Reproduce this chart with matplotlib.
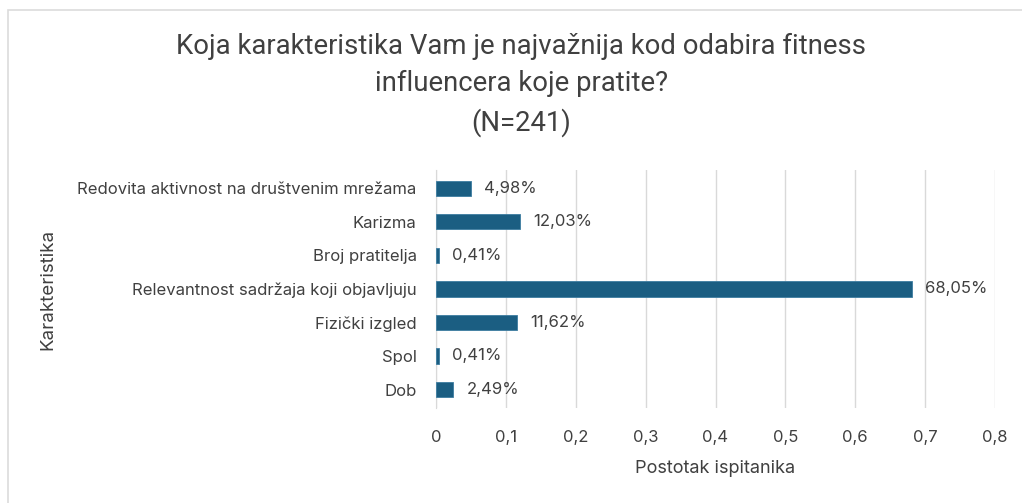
import matplotlib
matplotlib.use("Agg")
import matplotlib.pyplot as plt
from matplotlib.patches import Rectangle
from matplotlib.ticker import FixedLocator, FuncFormatter

categories = [
    "Redovita aktivnost na društvenim mrežama",
    "Karizma",
    "Broj pratitelja",
    "Relevantnost sadržaja koji objavljuju",
    "Fizički izgled",
    "Spol",
    "Dob",
]
values = [0.0498, 0.1203, 0.0041, 0.6805, 0.1162, 0.0041, 0.0249]
xticks = [0, 0.1, 0.2, 0.3, 0.4, 0.5, 0.6, 0.7, 0.8]

title = "Koja karakteristika Vam je najvažnija kod odabira fitness\ninfluencera koje pratite?\n(N=241)"
xlabel = "Postotak ispitanika"
ylabel = "Karakteristika"

plt.rcParams['font.family'] = ['Inter', 'DejaVu Sans']
TXT = '#404040'
BAR = '#1b5e82'

fig = plt.figure(figsize=(10.22, 5.03), dpi=100)
fig.patches.append(Rectangle((0.008, -0.05), 1.2, 1.03, transform=fig.transFigure,
                             fill=False, edgecolor='#dcdcdc', linewidth=1.2))

ax = fig.add_axes([0.4266, 0.189, 0.9736 - 0.4266, 0.662 - 0.189])
ypos = list(range(len(categories)))[::-1]
ax.barh(ypos, values, height=0.45, color=BAR, edgecolor='#3d7ca0', linewidth=0.6, zorder=3)
for y, v in zip(ypos, values):
    ax.text(v + 0.019, y, f"{v*100:.2f}%".replace('.', ','), va='center', ha='left',
            fontsize=12, color=TXT)

ax.set_xlim(0, 0.8)
ax.set_ylim(-0.55, len(categories) - 0.45)
ax.xaxis.set_major_locator(FixedLocator(xticks))
ax.xaxis.set_major_formatter(FuncFormatter(lambda x, p: ('0' if x == 0 else f"{x:.1f}".replace('.', ','))))
ax.set_yticks(ypos)
ax.set_yticklabels(categories)
ax.grid(axis='x', color='#d9d9d9', linewidth=1, zorder=0)
for s in ['top', 'right', 'bottom']:
    ax.spines[s].set_visible(False)
ax.spines['left'].set_color('#d9d9d9')
ax.tick_params(axis='both', length=0, colors=TXT, labelsize=12)
ax.tick_params(axis='y', pad=14)
ax.tick_params(axis='x', pad=16)

ax.set_xlabel(xlabel, fontsize=13, color=TXT, labelpad=11)
fig.text(0.047, 0.424, ylabel, rotation=90, ha='center', va='center', fontsize=13.5, color=TXT)

fig.text(0.51, 0.831, title, ha='center', va='center', fontsize=19.8, color=TXT,
         family=['Roboto', 'DejaVu Sans'], linespacing=1.48)

fig.savefig("out.png", dpi=100)
